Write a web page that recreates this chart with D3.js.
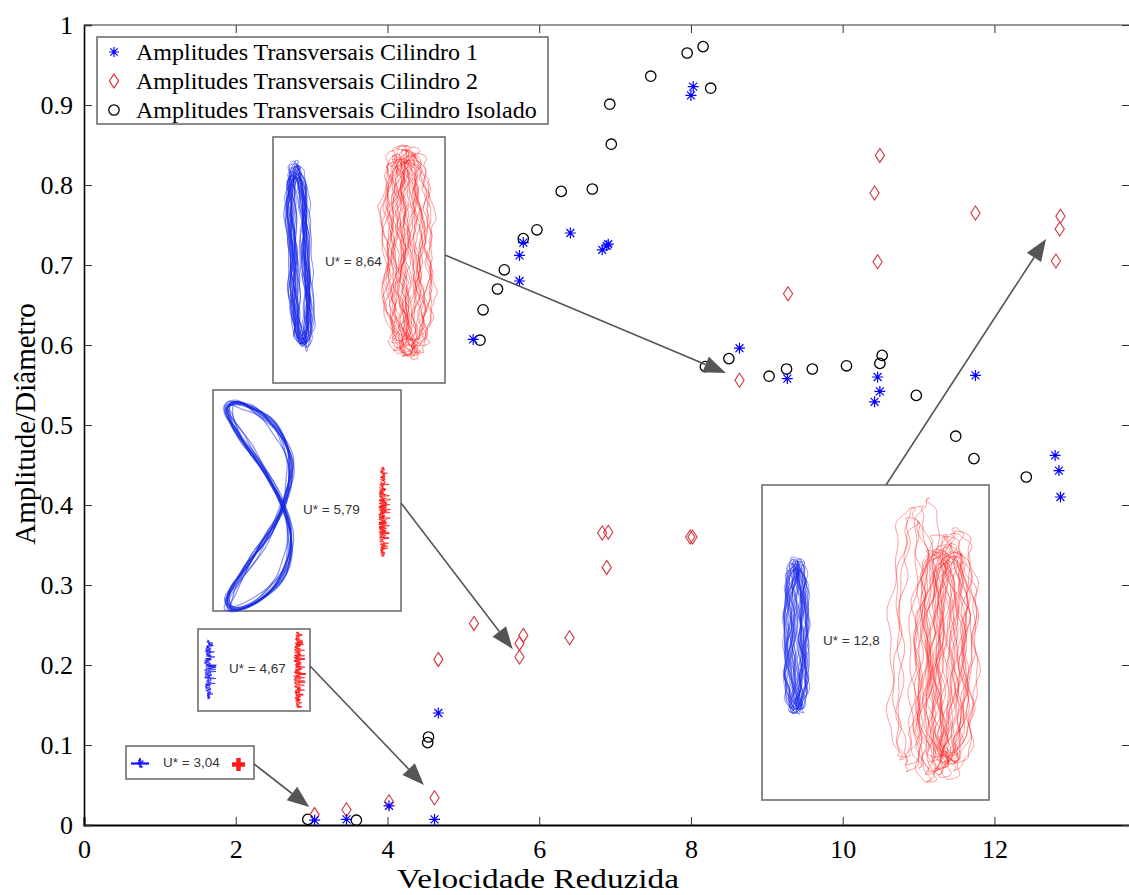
<!DOCTYPE html>
<html><head><meta charset="utf-8">
<script src="https://cdn.jsdelivr.net/npm/d3@7"></script>
<style>body{margin:0;background:#fff}svg{display:block}</style>
</head><body><div id="c"></div>
<script>
// ---------- data ----------
const xTicks = [0, 2, 4, 6, 8, 10, 12];
const yTicks = [0, 0.1, 0.2, 0.3, 0.4, 0.5, 0.6, 0.7, 0.8, 0.9, 1];
const seriesNames = ["Amplitudes Transversais Cilindro 1", "Amplitudes Transversais Cilindro 2", "Amplitudes Transversais Cilindro Isolado"];

const cyl1X = [3.04, 3.46, 4.02, 4.62, 4.67, 5.13, 5.74, 5.74, 5.79, 6.41, 6.83, 6.89, 6.91, 8.00, 8.03, 8.64, 9.27, 10.42, 10.46, 10.49, 11.75, 12.80, 12.85, 12.87];
const cyl1Y = [0.006, 0.007, 0.024, 0.007, 0.140, 0.607, 0.680, 0.712, 0.728, 0.740, 0.719, 0.724, 0.726, 0.912, 0.923, 0.596, 0.558, 0.529, 0.560, 0.542, 0.562, 0.462, 0.443, 0.410];

const cyl2X = [3.04, 3.46, 4.02, 4.62, 4.67, 5.14, 5.74, 5.74, 5.79, 6.40, 6.83, 6.91, 6.89, 7.99, 8.02, 8.64, 9.28, 10.42, 10.46, 10.49, 11.75, 12.81, 12.86, 12.87];
const cyl2Y = [0.013, 0.019, 0.029, 0.034, 0.207, 0.252, 0.210, 0.227, 0.237, 0.234, 0.365, 0.366, 0.322, 0.360, 0.360, 0.556, 0.664, 0.790, 0.704, 0.837, 0.765, 0.705, 0.745, 0.761];

const isoX = [2.95, 3.59, 4.53, 4.54, 5.22, 5.26, 5.45, 5.54, 5.79, 5.97, 6.29, 6.70, 6.93, 6.95, 7.47, 7.95, 8.16, 8.19, 8.26, 8.50, 9.03, 9.26, 9.60, 10.05, 10.49, 10.52, 10.97, 11.49, 11.73, 12.42];
const isoY = [0.007, 0.006, 0.103, 0.110, 0.606, 0.644, 0.670, 0.694, 0.733, 0.744, 0.792, 0.795, 0.901, 0.851, 0.936, 0.965, 0.973, 0.573, 0.921, 0.583, 0.561, 0.570, 0.570, 0.574, 0.577, 0.587, 0.537, 0.486, 0.458, 0.435];

// inset annotations: reduced velocity label and the point (data coords) each arrow points at
const insetLabels = ["U* = 3,04", "U* = 4,67", "U* = 5,79", "U* = 8,64", "U* = 12,8"];
const arrowTipX = [2.97, 4.48, 5.65, 8.46, 12.68];
const arrowTipY = [0.0225, 0.050, 0.220, 0.565, 0.7325];

// ---------- layout ----------
const W = 1129, H = 895;
const svg = d3.select("#c").append("svg").attr("width", W).attr("height", H);
const x = d3.scaleLinear().domain([0, 13.8]).range([84, 1131]);
const y = d3.scaleLinear().domain([0, 1]).range([825, 25]);
const serif = "'Liberation Serif','Times New Roman',serif";
const sans = "'Liberation Sans',Arial,sans-serif";
const C_BLUE = "#0000ff", C_RED = "#d23440", C_BLACK = "#000";

// axes box
svg.append("line").attr("x1", x(0)).attr("x2", 1131).attr("y1", y(1)).attr("y2", y(1)).attr("stroke", "#333").attr("stroke-width", 1.2);

const gx = svg.append("g").attr("transform", `translate(0,${y(0)})`)
  .call(d3.axisBottom(x).tickValues(xTicks).tickSize(-8).tickPadding(15).tickFormat(d3.format("d")));
const gxt = svg.append("g").attr("transform", `translate(0,${y(1)})`)
  .call(d3.axisTop(x).tickValues(xTicks).tickSize(-8).tickFormat(""));
const gy = svg.append("g").attr("transform", `translate(${x(0)},0)`)
  .call(d3.axisLeft(y).tickValues(yTicks).tickSize(-8).tickPadding(11).tickFormat(d => d === 0 ? "0" : d === 1 ? "1" : d3.format(".1f")(d)));
const gyr = svg.append("g").attr("transform", `translate(1129,0)`)
  .call(d3.axisRight(y).tickValues(yTicks).tickSize(-7).tickFormat(""));
[gx, gxt, gy, gyr].forEach(g => {
  g.selectAll("text").attr("font-family", serif).attr("font-size", 26).attr("fill", "#000");
  g.selectAll(".tick line").attr("stroke", "#333").attr("stroke-width", 1);
});
gxt.select(".domain").remove();
gyr.select(".domain").remove();
gx.select(".domain").attr("stroke", "#000").attr("stroke-width", 2);
gy.select(".domain").attr("stroke", "#000").attr("stroke-width", 1.6);

// axis titles
svg.append("text").attr("x", 538).attr("y", 888).attr("text-anchor", "middle")
  .attr("font-family", serif).attr("font-size", 28).attr("textLength", 282).attr("lengthAdjust", "spacingAndGlyphs")
  .text("Velocidade Reduzida");
svg.append("text").attr("transform", "translate(35,424) rotate(-90)").attr("text-anchor", "middle")
  .attr("font-family", serif).attr("font-size", 29).text("Amplitude/Diâmetro");

// ---------- markers ----------
function star(g, cx, cy, r, col) {
  const d = `M${cx - r},${cy}L${cx + r},${cy}M${cx},${cy - r}L${cx},${cy + r}` +
    `M${cx - r * 0.72},${cy - r * 0.72}L${cx + r * 0.72},${cy + r * 0.72}M${cx - r * 0.72},${cy + r * 0.72}L${cx + r * 0.72},${cy - r * 0.72}`;
  g.append("path").attr("d", d).attr("stroke", col).attr("stroke-width", 1.2).attr("fill", "none");
}
function diamond(g, cx, cy, col) {
  g.append("path").attr("d", `M${cx},${cy - 7}L${cx + 4.6},${cy}L${cx},${cy + 7}L${cx - 4.6},${cy}Z`)
    .attr("stroke", col).attr("stroke-width", 1.1).attr("fill", "none");
}
function circ(g, cx, cy, col) {
  g.append("circle").attr("cx", cx).attr("cy", cy).attr("r", 5.2).attr("stroke", col).attr("stroke-width", 1.3).attr("fill", "none");
}
const mk = svg.append("g");
isoX.forEach((v, i) => circ(mk, x(v), y(isoY[i]), C_BLACK));
cyl2X.forEach((v, i) => diamond(mk, x(v), y(cyl2Y[i]), C_RED));
cyl1X.forEach((v, i) => star(mk, x(v), y(cyl1Y[i]), 5.5, C_BLUE));

// ---------- insets (trajectory sketches) ----------
function hash(n) { const s = Math.sin(n * 12.9898 + 4.1414) * 43758.5453; return s - Math.floor(s); }
const lineL = d3.line();
const lineC = d3.line().curve(d3.curveCatmullRomClosed);

function loops(g, o) {
  for (let k = 0; k < o.n; k++) {
    const s0 = o.seed + k * 7.3;
    const ox = (hash(s0) - 0.5) * 2 * o.sx, oy = (hash(s0 + 1) - 0.5) * 2 * o.sy;
    const hw = o.w * (0.55 + 0.45 * hash(s0 + 2)), hh = o.h * (0.85 + 0.15 * hash(s0 + 3));
    const ph = hash(s0 + 4) * 6.28, ph2 = hash(s0 + 5) * 6.28;
    const pts = [];
    const N = o.N || 90;
    for (let j = 0; j < N; j++) {
      const t = 2 * Math.PI * j / N, c = Math.cos(t), s = Math.sin(t);
      const wf = o.waist + (1 - o.waist) * Math.abs(c);
      const px = o.cx + ox + hw * s * wf + o.tilt * hh * c
        + o.wob * (Math.sin(7 * t + ph) + 0.6 * Math.sin(15 * t + ph2))
        + (o.jit ? (hash(s0 * 3 + j) - 0.5) * o.jit : 0);
      const py = o.cy + oy - hh * c + o.wob * 0.6 * Math.sin(4 * t + ph2);
      pts.push([px, py]);
    }
    g.append("path").attr("d", (o.jit ? lineL : lineC)(pts) + (o.jit ? "Z" : ""))
      .attr("fill", "none").attr("stroke", o.color).attr("stroke-opacity", o.op).attr("stroke-width", o.sw);
  }
}
function zig(g, o) {
  for (let p = 0; p < o.passes; p++) {
    const pts = [];
    let i = 0;
    for (let yy = o.y0; yy <= o.y1; yy += o.step) {
      const u = (yy - o.y0) / (o.y1 - o.y0);
      const env = 0.45 + 0.55 * Math.sin(Math.PI * u);
      const r = hash(o.seed + p * 131 + i * 1.7);
      pts.push([o.cx + (r - 0.5) * 2 * o.amp * env * (r > 0.93 ? 1.8 : 1), yy]);
      i++;
    }
    g.append("path").attr("d", lineL(pts)).attr("fill", "none").attr("stroke", o.color)
      .attr("stroke-opacity", o.op).attr("stroke-width", o.sw);
  }
}
function eight(g, o) {
  for (let k = 0; k < o.n; k++) {
    const s0 = o.seed + k * 5.1;
    const a = o.a * (0.85 + 0.3 * hash(s0)), b = o.b * (0.96 + 0.05 * hash(s0 + 1)), c = o.c * (0.93 + 0.12 * hash(s0 + 2));
    const ph = hash(s0 + 3) * 6.28;
    const pts = [];
    for (let j = 0; j < 140; j++) {
      const t = 2 * Math.PI * j / 140, s = Math.sin(t);
      pts.push([o.cx + a * Math.sin(2 * t) - c * s * s + 1.2 * Math.sin(11 * t + ph) + (hash(s0 + 9) - 0.5) * 4,
        o.cy - b * s + 1.0 * Math.sin(9 * t + ph)]);
    }
    g.append("path").attr("d", lineC(pts)).attr("fill", "none").attr("stroke", o.color)
      .attr("stroke-opacity", o.op).attr("stroke-width", o.sw);
  }
}

const ins = svg.append("g");
function box(x0, y0, x1, y1) {
  ins.append("rect").attr("x", x0).attr("y", y0).attr("width", x1 - x0).attr("height", y1 - y0)
    .attr("fill", "#fff").attr("stroke", "#6e6e6e").attr("stroke-width", 1.6);
}
function label(i, lx, ly) {
  ins.append("text").attr("x", lx).attr("y", ly).attr("font-family", sans).attr("font-size", 13.5)
    .attr("fill", "#333").attr("dominant-baseline", "middle").text(insetLabels[i]);
}
function arrow(i, sx, sy) {
  const tx = x(arrowTipX[i]), ty = y(arrowTipY[i]);
  const ang = Math.atan2(ty - sy, tx - sx), L = 22, Wd = 8.5;
  const bx = tx - L * Math.cos(ang), by = ty - L * Math.sin(ang);
  ins.append("line").attr("x1", sx).attr("y1", sy).attr("x2", bx).attr("y2", by)
    .attr("stroke", "#555").attr("stroke-width", 1.6);
  const px = -Math.sin(ang) * Wd, py = Math.cos(ang) * Wd;
  ins.append("path").attr("d", `M${tx},${ty}L${bx + px},${by + py}L${bx - px},${by - py}Z`).attr("fill", "#555");
}

// U* = 3,04
box(126, 746, 254, 779);
zig(ins, { cx: 140, y0: 758, y1: 768, amp: 2, step: 0.8, passes: 2, seed: 11, color: "#1010ff", op: 0.9, sw: 1.2 });
ins.append("path").attr("d", "M131,763.5L149,763.5").attr("stroke", "#1010ff").attr("stroke-width", 2.2);
ins.append("path").attr("d", "M232,764.5L245,764.5M238.5,758L238.5,771").attr("stroke", "#ff1a1a").attr("stroke-width", 4.5);
label(0, 163, 763);
arrow(0, 254, 764);

// U* = 4,67
box(198, 629, 310, 711);
zig(ins, { cx: 208.5, y0: 640, y1: 699, amp: 4.5, step: 0.7, passes: 3, seed: 21, color: "#1010ff", op: 0.7, sw: 0.9 });
zig(ins, { cx: 298, y0: 632, y1: 708, amp: 4.5, step: 0.7, passes: 3, seed: 41, color: "#ff1010", op: 0.75, sw: 0.9 });
label(1, 229, 669);
arrow(1, 310, 666);

// U* = 5,79
box(213, 390, 401, 611);
eight(ins, { cx: 283, cy: 506, a: 20, b: 104, c: 48, n: 14, seed: 3, color: "#1428e6", op: 0.5, sw: 1.2 });
zig(ins, { cx: 383, y0: 467, y1: 557, amp: 4.5, step: 0.7, passes: 3, seed: 61, color: "#ff1010", op: 0.75, sw: 0.9 });
label(2, 303, 510);
arrow(2, 401, 503);

// U* = 8,64
box(273, 137, 445, 383);
loops(ins, { cx: 299, cy: 256, w: 14, h: 93, n: 26, sx: 4, sy: 4, waist: 0.55, tilt: -0.045, wob: 1.2, seed: 5, color: "#1a2ae8", op: 0.55, sw: 1 });
loops(ins, { cx: 408, cy: 252, w: 18, h: 105, n: 22, sx: 12, sy: 8, waist: 0.8, tilt: -0.02, wob: 2.5, jit: 2.5, N: 120, seed: 9, color: "#ff1a1a", op: 0.55, sw: 0.8 });
label(3, 325, 262);
arrow(3, 445, 255);

// U* = 12,8
box(762, 485, 989, 800);
loops(ins, { cx: 797, cy: 637, w: 11, h: 78, n: 28, sx: 5, sy: 3, waist: 0.75, tilt: 0, wob: 1.6, seed: 13, color: "#1a2ae8", op: 0.5, sw: 0.9 });
loops(ins, { cx: 945, cy: 655, w: 24, h: 118, n: 26, sx: 14, sy: 12, waist: 0.8, tilt: 0.02, wob: 3, seed: 17, color: "#ff2a2a", op: 0.5, sw: 0.9 });
loops(ins, { cx: 915, cy: 640, w: 24, h: 140, n: 5, sx: 10, sy: 10, waist: 0.8, tilt: 0.03, wob: 3, seed: 29, color: "#ff2a2a", op: 0.5, sw: 0.9 });
label(4, 823, 641);
arrow(4, 886, 485);

// ---------- legend ----------
const lg = svg.append("g");
lg.append("rect").attr("x", 97).attr("y", 37).attr("width", 451).attr("height", 87)
  .attr("fill", "#fff").attr("stroke", "#6e6e6e").attr("stroke-width", 1.6);
const ly = [52, 81, 110];
star(lg, 114, ly[0], 5, C_BLUE);
diamond(lg, 114, ly[1], "#e02020");
circ(lg, 114, ly[2], C_BLACK);
seriesNames.forEach((t, i) => lg.append("text").attr("x", 136).attr("y", ly[i]).attr("dy", "0.35em")
  .attr("font-family", serif).attr("font-size", 24).text(t));
</script></body></html>
